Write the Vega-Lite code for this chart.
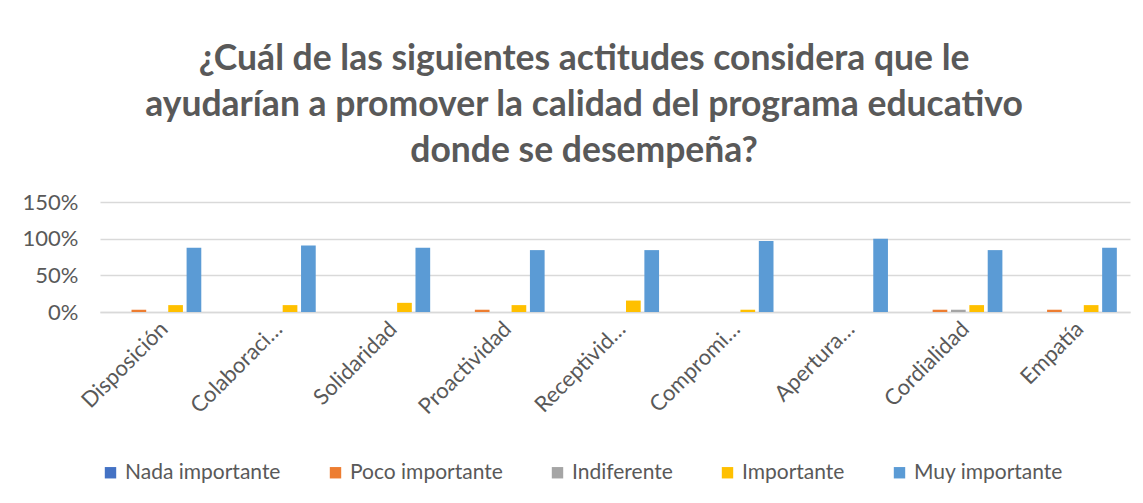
{
  "$schema": "https://vega.github.io/schema/vega-lite/v6.json",
  "width": 1030,
  "height": 110,
  "padding": {"left": 22, "top": 41, "right": 13, "bottom": 10},
  "background": "white",
  "title": {
    "text": ["¿Cuál de las siguientes actitudes considera que le", "ayudarían a promover la calidad del programa educativo", "donde se desempeña?"],
    "font": "Lato",
    "fontSize": 35.5,
    "fontWeight": "bold",
    "color": "#595959",
    "lineHeight": 46,
    "anchor": "middle",
    "frame": "bounds",
    "offset": 22,
    "dx": 8
  },
  "data": {
    "values": [
      {"actitud": "Disposición", "nivel": "Poco importante", "valor": 0.031},
      {"actitud": "Disposición", "nivel": "Importante", "valor": 0.094},
      {"actitud": "Disposición", "nivel": "Muy importante", "valor": 0.875},
      {"actitud": "Colaboraci…", "nivel": "Importante", "valor": 0.094},
      {"actitud": "Colaboraci…", "nivel": "Muy importante", "valor": 0.906},
      {"actitud": "Solidaridad", "nivel": "Importante", "valor": 0.125},
      {"actitud": "Solidaridad", "nivel": "Muy importante", "valor": 0.875},
      {"actitud": "Proactividad", "nivel": "Poco importante", "valor": 0.031},
      {"actitud": "Proactividad", "nivel": "Importante", "valor": 0.094},
      {"actitud": "Proactividad", "nivel": "Muy importante", "valor": 0.844},
      {"actitud": "Receptivid…", "nivel": "Importante", "valor": 0.156},
      {"actitud": "Receptivid…", "nivel": "Muy importante", "valor": 0.844},
      {"actitud": "Compromi…", "nivel": "Importante", "valor": 0.031},
      {"actitud": "Compromi…", "nivel": "Muy importante", "valor": 0.969},
      {"actitud": "Apertura…", "nivel": "Muy importante", "valor": 1.0},
      {"actitud": "Cordialidad", "nivel": "Poco importante", "valor": 0.031},
      {"actitud": "Cordialidad", "nivel": "Indiferente", "valor": 0.031},
      {"actitud": "Cordialidad", "nivel": "Importante", "valor": 0.094},
      {"actitud": "Cordialidad", "nivel": "Muy importante", "valor": 0.844},
      {"actitud": "Empatía", "nivel": "Poco importante", "valor": 0.031},
      {"actitud": "Empatía", "nivel": "Importante", "valor": 0.094},
      {"actitud": "Empatía", "nivel": "Muy importante", "valor": 0.875}
    ]
  },
  "mark": {"type": "bar"},
  "encoding": {
    "x": {
      "field": "actitud",
      "type": "nominal",
      "sort": ["Disposición", "Colaboraci…", "Solidaridad", "Proactividad", "Receptivid…", "Compromi…", "Apertura…", "Cordialidad", "Empatía"],
      "scale": {"paddingInner": 0.23, "paddingOuter": 0.115},
      "axis": {
        "title": null,
        "labelAngle": -45,
        "labelFont": "Lato",
        "labelFontSize": 22,
        "labelColor": "#595959",
        "ticks": false,
        "domainColor": "#d9d9d9",
        "domainWidth": 1.5,
        "labelPadding": 6,
        "labelLimit": 300
      }
    },
    "xOffset": {
      "field": "nivel",
      "type": "nominal",
      "scale": {"domain": ["Nada importante", "Poco importante", "Indiferente", "Importante", "Muy importante"], "paddingInner": 0.2}
    },
    "y": {
      "field": "valor",
      "type": "quantitative",
      "scale": {"domain": [0, 1.5]},
      "axis": {
        "title": null,
        "format": ".0%",
        "values": [0, 0.5, 1, 1.5],
        "domain": false,
        "ticks": false,
        "gridColor": "#d9d9d9",
        "gridWidth": 1.5,
        "labelFont": "Lato",
        "labelFontSize": 22,
        "labelColor": "#595959",
        "labelPadding": 22
      }
    },
    "color": {
      "field": "nivel",
      "type": "nominal",
      "scale": {
        "domain": ["Nada importante", "Poco importante", "Indiferente", "Importante", "Muy importante"],
        "range": ["#4472C4", "#ED7D31", "#A5A5A5", "#FFC000", "#5B9BD5"]
      },
      "legend": {
        "orient": "bottom",
        "direction": "horizontal",
        "title": null,
        "symbolType": "square",
        "symbolSize": 130,
        "symbolStrokeWidth": 0,
        "labelFont": "Lato",
        "labelFontSize": 21,
        "labelColor": "#595959",
        "labelLimit": 400,
        "columnPadding": 44,
        "offset": 44
      }
    }
  },
  "config": {"view": {"stroke": null}}
}
